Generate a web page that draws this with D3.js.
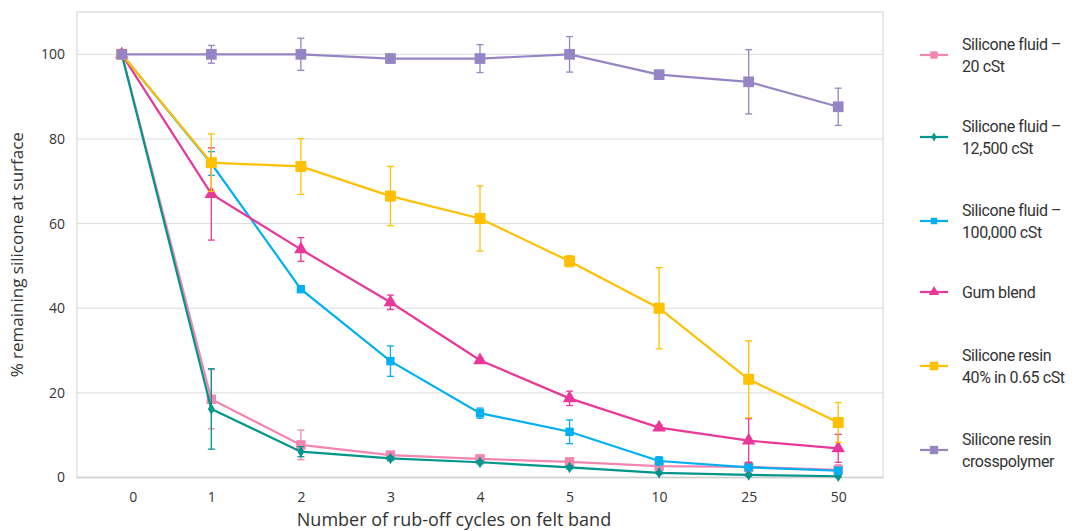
<!DOCTYPE html>
<html>
<head>
<meta charset="utf-8">
<script src="https://cdn.jsdelivr.net/npm/d3@7"></script>
<style>
  body { margin: 0; background: #fff; }
  svg { display: block; }
  text { font-family: "Open Sans", sans-serif; fill: #333; }
  .legend text { font-family: "Roboto", sans-serif; letter-spacing: -0.4px; }
</style>
</head>
<body>
<svg></svg>
<script>
// rub-off cycles (categorical)
const cycles = ["0", "1", "2", "3", "4", "5", "10", "25", "50"];
const yTicks = [0, 20, 40, 60, 80, 100];

// % remaining
const fluid20 = [100, 18.5, 7.7, 5.3, 4.4, 3.7, 2.7, 2.5, 1.8];
const fluid20Err = [0, 7, 3.5, 0.8, 0.5, 0.5, 0.5, 1.2, 1.2];
const fluid12500 = [100, 16.2, 6.1, 4.5, 3.6, 2.4, 1.1, 0.6, 0.3];
const fluid12500Err = [0, 9.5, 1.2, 0.5, 0.4, 0.4, 0.3, 0.3, 0.2];
const fluid100k = [100, 74.2, 44.5, 27.5, 15.2, 10.8, 3.9, 2.4, 1.6];
const fluid100kErr = [0, 2.8, 0.5, 3.6, 1.2, 2.8, 1.0, 0.5, 0.5];
const gumBlend = [100, 67.0, 53.9, 41.4, 27.7, 18.7, 11.8, 8.7, 6.9];
const gumBlendErr = [0, 10.9, 2.8, 1.7, 0.5, 1.7, 0.6, 5.2, 3.3];
const resin40 = [100, 74.4, 73.5, 66.5, 61.2, 51.1, 40.0, 23.2, 13.0];
const resin40Err = [0, 6.8, 6.6, 7.0, 7.7, 1.3, 9.6, 9.1, 4.7];
const crossPoly = [100, 100, 100, 99, 99, 100, 95.2, 93.5, 87.6];
const crossPolyErr = [0, 2.1, 3.8, 1.0, 3.3, 4.2, 0.5, 7.6, 4.4];

const seriesNames = [
    ["Silicone fluid \u2013", "20 cSt"],
    ["Silicone fluid \u2013", "12,500 cSt"],
    ["Silicone fluid \u2013", "100,000 cSt"],
    ["Gum blend"],
    ["Silicone resin", "40% in 0.65 cSt"],
    ["Silicone resin", "crosspolymer"]
];

const series = [
    { name: seriesNames[0], values: fluid20, err: fluid20Err, color: "#f286b0", shape: d3.symbolSquare, size: 90 },
    { name: seriesNames[1], values: fluid12500, err: fluid12500Err, color: "#00968c", shape: d3.symbolDiamond, size: 40 },
    { name: seriesNames[2], values: fluid100k, err: fluid100kErr, color: "#00b0f0", shape: d3.symbolSquare, size: 70 },
    { name: seriesNames[3], values: gumBlend, err: gumBlendErr, color: "#e8399a", shape: d3.symbolTriangle, size: 80 },
    { name: seriesNames[4], values: resin40, err: resin40Err, color: "#ffc000", shape: d3.symbolSquare, size: 120 },
    { name: seriesNames[5], values: crossPoly, err: crossPolyErr, color: "#9685c4", shape: d3.symbolSquare, size: 115 }
];

const width = 1075;
const height = 531;
const plot = { left: 77, right: 883, top: 12, bottom: 477.5 };

let svg = d3.select("svg")
    .attr("width", width)
    .attr("height", height);

const x = d3.scalePoint()
    .domain(cycles)
    .range([plot.left, plot.right])
    .padding(0.5);

const y = d3.scaleLinear()
    .domain([0, 110])
    .range([plot.bottom, plot.top]);

// frame and gridlines
svg.append("rect")
    .attr("x", plot.left)
    .attr("y", plot.top)
    .attr("width", plot.right - plot.left)
    .attr("height", plot.bottom - plot.top)
    .attr("fill", "none")
    .attr("stroke", "#e0e0e0")
    .attr("stroke-width", 1.5);

svg.append("g")
    .selectAll("line")
    .data(yTicks.filter(d => d > 0))
    .join("line")
    .attr("x1", plot.left)
    .attr("x2", plot.right)
    .attr("y1", d => y(d))
    .attr("y2", d => y(d))
    .attr("stroke", "#dcdcdc")
    .attr("stroke-width", 1);

svg.append("line")
    .attr("x1", plot.left)
    .attr("x2", plot.right)
    .attr("y1", y(0))
    .attr("y2", y(0))
    .attr("stroke", "#d0d0d0")
    .attr("stroke-width", 1.5);

// axes
const yAxis = svg.append("g")
    .attr("transform", `translate(${plot.left},0)`)
    .call(d3.axisLeft(y).tickValues(yTicks).tickSize(0).tickPadding(12));
yAxis.select(".domain").remove();
yAxis.selectAll("text")
    .style("font-size", "14px")
    .style("font-family", "Open Sans, sans-serif")
    .attr("fill", "#333");

const xAxis = svg.append("g")
    .attr("transform", `translate(0,${plot.bottom})`)
    .call(d3.axisBottom(x).tickSize(0).tickPadding(15));
xAxis.select(".domain").remove();
xAxis.selectAll("text")
    .style("font-size", "14px")
    .style("font-family", "Open Sans, sans-serif")
    .attr("fill", "#333")
    .attr("dx", d => d === "0" ? 11 : 0);

// axis titles
svg.append("text")
    .attr("transform", `translate(23,${(plot.top + plot.bottom) / 2 + 10}) rotate(-90)`)
    .attr("text-anchor", "middle")
    .style("font-size", "17px")
    .text("% remaining silicone at surface");

svg.append("text")
    .attr("x", 454)
    .attr("y", 526)
    .attr("text-anchor", "middle")
    .style("font-size", "18px")
    .text("Number of rub-off cycles on felt band");

// series
const line = d3.line()
    .x((d, i) => x(cycles[i]))
    .y(d => y(d));

series.forEach(s => {
    const g = svg.append("g");

    const bars = g.selectAll("g.err")
        .data(s.values.map((v, i) => ({ v: v, e: s.err[i], c: cycles[i] })).filter(d => d.e > 0))
        .join("g");
    bars.append("line")
        .attr("x1", d => x(d.c))
        .attr("x2", d => x(d.c))
        .attr("y1", d => y(d.v - d.e))
        .attr("y2", d => y(d.v + d.e))
        .attr("stroke", s.color)
        .attr("stroke-width", 1.3);
    [-1, 1].forEach(sign => {
        bars.append("line")
            .attr("x1", d => x(d.c) - 3.5)
            .attr("x2", d => x(d.c) + 3.5)
            .attr("y1", d => y(d.v + sign * d.e))
            .attr("y2", d => y(d.v + sign * d.e))
            .attr("stroke", s.color)
            .attr("stroke-width", 1.3);
    });

    g.append("path")
        .datum(s.values)
        .attr("d", line)
        .attr("fill", "none")
        .attr("stroke", s.color)
        .attr("stroke-width", 2.2);

    g.selectAll("path.pt")
        .data(s.values)
        .join("path")
        .attr("class", "pt")
        .attr("transform", (d, i) => `translate(${x(cycles[i])},${y(d)})`)
        .attr("d", d3.symbol().type(s.shape).size(s.size))
        .attr("fill", s.color);
});

// legend
const legendY = [55, 137, 221, 292, 366, 450];
const legend = svg.append("g").attr("class", "legend");

series.forEach((s, i) => {
    const g = legend.append("g")
        .attr("transform", `translate(920,${legendY[i]})`);
    g.append("line")
        .attr("x1", 0)
        .attr("x2", 28)
        .attr("stroke", s.color)
        .attr("stroke-width", 2.2);
    g.append("path")
        .attr("transform", "translate(14,0)")
        .attr("d", d3.symbol().type(s.shape).size(s.size * 0.6))
        .attr("fill", s.color);
    const lines = s.name;
    const t = g.append("text")
        .attr("x", 42)
        .style("font-size", "16px");
    lines.forEach((ln, k) => {
        t.append("tspan")
            .attr("x", 42)
            .attr("y", (k - (lines.length - 1) / 2) * 22 + 6)
            .text(ln);
    });
});
</script>
</body>
</html>
